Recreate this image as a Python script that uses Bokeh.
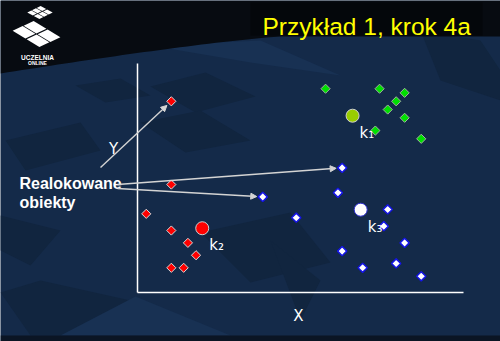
import numpy as np
from bokeh.plotting import figure
from bokeh.models import Range1d, LinearAxis, Arrow, NormalHead, FixedTicker
from bokeh.core.properties import value
from bokeh.embed import file_html
from bokeh.resources import INLINE

# ---------------- data (chart units, axes 0..10) ----------------
red_x = [1.03, 1.03, 0.26, 1.03, 1.54, 1.79, 1.03, 1.41]
red_y = [8.36, 4.72, 3.44, 2.71, 2.17, 1.63, 1.08, 1.08]
green_x = [5.77, 7.43, 8.20, 7.94, 7.68, 8.20, 7.30, 8.71]
green_y = [8.91, 8.91, 8.73, 8.36, 8.00, 7.64, 7.08, 6.72]
blue_x = [6.28, 6.15, 3.84, 4.87, 7.68, 7.56, 8.20, 6.28, 6.91, 7.94, 8.71]
blue_y = [5.45, 4.36, 4.18, 3.27, 3.63, 2.90, 2.17, 1.81, 1.08, 1.27, 0.71]
centroid_labels = ["k\u2081", "k\u2082", "k\u2083"]
centroid_x = [6.60, 1.98, 6.85]
centroid_y = [7.73, 2.81, 3.62]
centroid_colors = ["#99cc00", "#ff0000", "#ffffff"]
# relocated objects pointed at by arrows: (series, index)
relocated = [("red", 0), ("blue", 0), ("blue", 2)]
title_text = "Przykład 1, krok 4a"
note_lines = ["Realokowane", "obiekty"]
x_label, y_label = "X", "Y"

# ---------------- layout ----------------
W, H = 500, 341
AX_L, AX_R, AX_T, AX_B = 137.3, 462.7, 63.3, 292.0
SX = (AX_R - AX_L) / 10.0
SY = (AX_B - AX_T) / 10.0
BG = "#142a49"


def to_px(x, y):
    return AX_L + x * SX, AX_B - y * SY


p = figure(width=W, height=H,
           x_range=Range1d(-AX_L / SX, (W - AX_L) / SX),
           y_range=Range1d((AX_B - H) / SY, AX_B / SY),
           x_axis_type=None, y_axis_type=None,
           output_backend="svg", toolbar_location=None,
           min_border=0, background_fill_color=BG, border_fill_color=BG,
           outline_line_color=None)
p.grid.visible = False
p.extra_x_ranges = {"px": Range1d(0, W)}
p.extra_y_ranges = {"px": Range1d(H, 0)}
PX = dict(x_range_name="px", y_range_name="px")

# ---------------- background decoration (pixel space) ----------------
dark_tiles = [
    ([5, 80, 100, 25], [140, 122, 150, 170]),
    ([150, 205, 255, 195], [86, 72, 96, 112]),
    ([140, 200, 250, 185], [122, 110, 140, 152]),
    ([75, 120, 150, 105], [85, 78, 95, 102]),
    ([0, 40, 130, 110, 30], [292, 280, 300, 335, 335]),
    ([200, 290, 330, 250], [232, 212, 262, 282]),
    ([270, 320, 300], [240, 280, 320]),
    ([0, 60, 30, 0], [215, 230, 265, 250]),
    ([420, 480, 500, 500, 440], [30, 40, 70, 100, 80]),
]
for xs, ys in dark_tiles:
    p.patch(xs, ys, fill_color="#11253f", line_color=None, **PX)

light_tiles = [
    ([60, 135, 230], [335, 296, 335]),
    ([150, 260, 340, 250], [45, 40, 75, 62]),
]
for xs, ys in light_tiles:
    p.patch(xs, ys, fill_color="#183153", line_color=None, **PX)

cx = np.linspace(0, 280, 40)
cy = 36 + 37 * (1 - cx / 280) ** 1.2
band_x = [0, W, W, 280] + list(cx[::-1])
band_y = [0, 0, 36, 36] + list(cy[::-1])
p.patch(band_x, band_y, fill_color="#070b11", line_color=None, **PX)
p.patch([250, 482, 482, 250], [2, 2, 35, 35], fill_color="#04070b", line_color=None, **PX)
p.patch([0, W, W, 0], [335, 335, H, H], fill_color="#0b1524", line_color=None, **PX)


def tiles(o, a, b, n, m, g):
    xs, ys = [], []
    for i in range(n):
        for j in range(m):
            u0, u1 = (i + g) / n, (i + 1 - g) / n
            v0, v1 = (j + g) / m, (j + 1 - g) / m
            pts = [(u0, v0), (u1, v0), (u1, v1), (u0, v1)]
            xs.append([o[0] + u * a[0] + v * b[0] for u, v in pts])
            ys.append([o[1] + u * a[1] + v * b[1] for u, v in pts])
    return xs, ys


lx, ly = tiles((11, 30), (22, -10), (28, 17), 2, 2, 0.045)
p.patches(lx, ly, fill_color="white", line_color=None, **PX)
lx, ly = tiles((26, 12), (14, -7), (13, 7), 3, 2, 0.07)
p.patches(lx, ly, fill_color="white", line_color=None, **PX)
p.text([37], [56.5], text=["UCZELNIA"], text_font=value("Liberation Sans"),
       text_font_size="6.5px", text_font_style="bold", text_color="white",
       text_align="center", text_baseline="alphabetic", **PX)
p.text([37], [62], text=["ONLINE"], text_font=value("Liberation Sans"),
       text_font_size="5px", text_font_style="bold", text_color="white",
       text_align="center", text_baseline="alphabetic", **PX)

# title
p.text([262], [25.5], text=[title_text], text_font=value("Liberation Sans"),
       text_font_size="24.5px", text_color="#ffff00",
       text_align="left", text_baseline="alphabetic", **PX)

# ---------------- axes ----------------
xax = LinearAxis(fixed_location=0, bounds=(0, 10), ticker=FixedTicker(ticks=[]),
                 axis_line_color="white", axis_line_width=1.5,
                 major_tick_line_color=None, minor_tick_line_color=None)
yax = LinearAxis(fixed_location=0, bounds=(0, 10), ticker=FixedTicker(ticks=[]),
                 axis_line_color="white", axis_line_width=1.5,
                 major_tick_line_color=None, minor_tick_line_color=None)
p.add_layout(xax, "below")
p.add_layout(yax, "left")

p.text([298], [315], text=[x_label], text_font=value("DejaVu Sans"),
       text_font_size="15px", text_color="white", text_align="center",
       text_baseline="middle", **PX)
p.text([113], [148], text=[y_label], text_font=value("DejaVu Sans"),
       text_font_size="15px", text_color="white", text_align="center",
       text_baseline="middle", **PX)

# ---------------- note + arrows ----------------
p.text([19], [183], text=[note_lines[0]], text_font=value("Liberation Sans"),
       text_font_size="16px", text_font_style="bold", text_color="white",
       text_align="left", text_baseline="alphabetic", **PX)
p.text([19], [202], text=[note_lines[1]], text_font=value("Liberation Sans"),
       text_font_size="16px", text_font_style="bold", text_color="white",
       text_align="left", text_baseline="alphabetic", **PX)

series = {"red": (red_x, red_y), "blue": (blue_x, blue_y), "green": (green_x, green_y)}
arrow_starts = [(100, 167), (117, 184), (117, 188)]
for (name, idx), (sx0, sy0) in zip(relocated, arrow_starts):
    tx, ty = to_px(series[name][0][idx], series[name][1][idx])
    dx, dy = tx - sx0, ty - sy0
    d = np.hypot(dx, dy)
    ex, ey = tx - dx / d * 6, ty - dy / d * 6
    p.add_layout(Arrow(x_start=sx0, y_start=sy0, x_end=ex, y_end=ey,
                       line_color="#d4d4d4", line_width=1.4,
                       end=NormalHead(size=6, fill_color="#d4d4d4", line_color="#d4d4d4"),
                       **PX))

# ---------------- points ----------------
DIAM = dict(marker="square", angle=np.pi / 4, size=6.5)
p.scatter(red_x, red_y, fill_color="#ff0000", line_color="#d8d8d8", line_width=1, **DIAM)
p.scatter(green_x, green_y, fill_color="#00e000", line_color="#a0b0a0", line_width=1, **DIAM)
p.scatter(blue_x, blue_y, fill_color="#ffffff", line_color="#1414e6", line_width=1.5, **DIAM)

p.scatter(centroid_x, centroid_y, marker="circle", size=13, fill_color=centroid_colors,
          line_color=["#d0d0d0", "#d0d0d0", "#3030d0"], line_width=1)
p.text(centroid_x, centroid_y, text=centroid_labels, text_font=value("DejaVu Sans"),
       text_font_size="15px", text_color="white", text_align="left",
       text_baseline="alphabetic", x_offset=7, y_offset=17)

open("out.html", "w").write(file_html(p, INLINE))
